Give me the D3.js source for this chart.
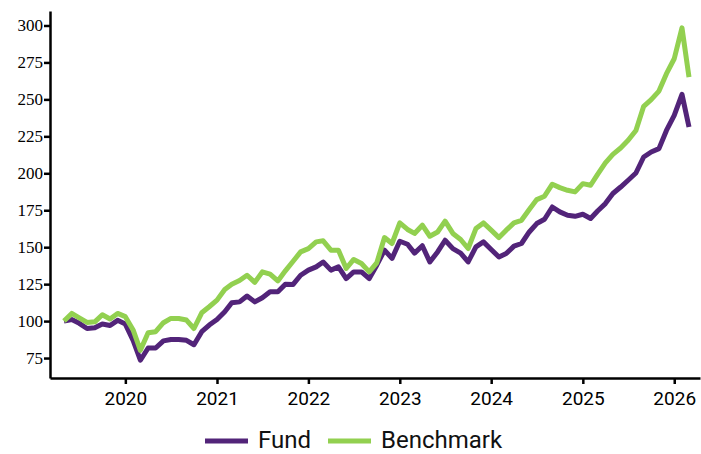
<!DOCTYPE html>
<html>
<head>
<meta charset="utf-8">
<script src="https://cdn.jsdelivr.net/npm/d3@7"></script>
<style>
  body { margin: 0; background: #fff; }
  .chart svg { display: block; }
</style>
</head>
<body>
<div class="chart"></div>
<script>
var svgWidth = 701;
var svgHeight = 454;

// monthly points, first of month, May 2019 .. Mar 2026
var startMonth = new Date(2019, 4, 1);

var fund = [100, 101, 98.5, 95, 95.5, 98, 97, 100.5, 98, 87,
    73.5, 81.8, 81.8, 86.6, 87.6, 87.6, 87, 84, 92.8, 97.3,
    101.1, 106.3, 112.4, 113, 117, 113, 115.8, 119.8, 119.8, 125,
    124.8, 131, 134.5, 136.7, 140, 134.5, 136.7, 128.8, 133.3, 133.3,
    128.8, 137.8, 148, 142.4, 154, 152, 146, 151, 140, 146.8,
    154.7, 149, 146, 140, 150.2, 153.6, 148.4, 143.4, 145.7, 150.7,
    152.5, 160.3, 166, 168.9, 177.2, 173.9, 171.6, 170.9, 172.3, 169.4,
    174.5, 179.5, 186.3, 190.7, 195.3, 200.2, 211, 214.4, 216.7, 229,
    239.2, 253.4, 231.3];

var benchmark = [100, 105.2, 102.2, 99.1, 99.5, 104.3, 101.4, 105.2, 103, 94,
    80.2, 92.1, 92.8, 98.9, 101.8, 101.8, 100.7, 95, 105.6, 109.7,
    114.2, 121.4, 125, 127.5, 131, 126.2, 133.3, 131.8, 127.2, 134,
    140.5, 146.8, 149, 153.6, 154.3, 148, 148, 135.6, 141.7, 139,
    133.3, 139.4, 156.5, 152.5, 166.4, 162, 159.3, 164.9, 157.4, 160.3,
    167.6, 159.3, 155.2, 149.1, 162.6, 166.4, 161.5, 156.5, 161.5, 166.4,
    168.2, 175.5, 182.2, 184.5, 192.6, 190.3, 188.5, 187.4, 193, 191.9,
    199.3, 207, 212.8, 217.1, 222.3, 229, 245.3, 249.8, 255.6, 267.4,
    277.5, 298.4, 265];

var yTicks = [75, 100, 125, 150, 175, 200, 225, 250, 275, 300];
var yearTicks = [2020, 2021, 2022, 2023, 2024, 2025, 2026];

var seriesNames = ["Fund", "Benchmark"];
var seriesColors = ["#522479", "#92d050"];

var dates = fund.map(function(d, i) {
    return d3.timeMonth.offset(startMonth, i);
});

var svg = d3.select(".chart")
    .append("svg")
    .attr("width", svgWidth)
    .attr("height", svgHeight);

// scales
var x = d3.scaleTime()
    .domain([dates[0], dates[dates.length - 1]])
    .range([64, 689]);

var xAxisScale = x.copy()
    .domain([x.invert(50), x.invert(700)])
    .range([50, 700]);

var y = d3.scaleLinear()
    .domain([61.5, 309.8])
    .range([378, 11]);

// axes
var bottomAxis = d3.axisBottom(xAxisScale)
    .tickValues(yearTicks.map(function(yr) { return new Date(yr, 0, 1); }))
    .tickFormat(d3.timeFormat("%Y"))
    .tickSizeInner(6)
    .tickSizeOuter(0)
    .tickPadding(8);

var leftAxis = d3.axisLeft(y)
    .tickValues(yTicks)
    .tickSizeInner(6)
    .tickSizeOuter(0)
    .tickPadding(1);

svg.append("g")
    .attr("transform", "translate(0,378)")
    .call(bottomAxis)
    .attr("font-family", "Roboto")
    .attr("font-size", 19)
    .selectAll("text")
    .attr("fill", "#000");

svg.append("g")
    .attr("transform", "translate(50,0)")
    .call(leftAxis)
    .attr("font-family", "Liberation Serif")
    .attr("font-size", 17)
    .selectAll("text")
    .attr("fill", "#000")
    .style("font-family", "'Liberation Serif', 'DejaVu Serif', serif");

svg.selectAll(".domain, .tick line")
    .attr("stroke", "#000")
    .attr("stroke-width", 2.5);

// lines
var line = d3.line()
    .x(function(d, i) { return x(dates[i]); })
    .y(function(d) { return y(d); });

[fund, benchmark].forEach(function(series, k) {
    svg.append("path")
        .datum(series)
        .attr("fill", "none")
        .attr("stroke", seriesColors[k])
        .attr("stroke-width", 5)
        .attr("stroke-linejoin", "round")
        .attr("d", line);
});

// legend
var legendX = [205, 328];
var legend = svg.append("g")
    .attr("font-family", "Roboto")
    .attr("font-size", 24);

seriesNames.forEach(function(name, k) {
    legend.append("line")
        .attr("x1", legendX[k])
        .attr("x2", legendX[k] + 43)
        .attr("y1", 441)
        .attr("y2", 441)
        .attr("stroke", seriesColors[k])
        .attr("stroke-width", 5);
    legend.append("text")
        .attr("x", legendX[k] + 53)
        .attr("y", 448)
        .attr("fill", "#111")
        .text(name);
});
</script>
</body>
</html>
